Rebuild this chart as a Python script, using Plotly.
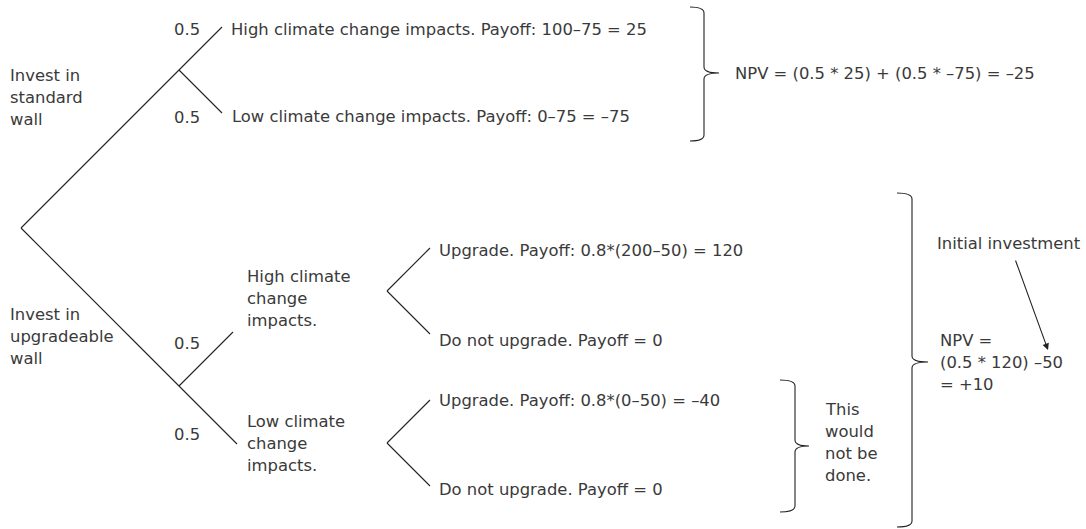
import plotly.graph_objects as go

W, H = 1086, 529
FONT = "DejaVu Sans"
FS = 16.4
TXT = "#3a3a3a"
LINE = "#222222"

# ---- tree nodes (pixel-space layout of the diagram) ----
node_names = ["root", "std", "std_hi", "std_lo", "upg", "upg_hi", "upg_lo",
              "hi_node", "hi_up", "hi_no", "lo_node", "lo_up", "lo_no"]
node_x = [21, 179, 222, 222, 179, 233, 237, 387, 430, 430, 387, 430, 430]
node_y = [228, 70, 27, 113, 386, 332, 444, 291, 248, 334, 443, 400, 486]

# edges of the tree
edges = [("root", "std"), ("std", "std_hi"), ("std", "std_lo"),
         ("root", "upg"), ("upg", "upg_hi"), ("upg", "upg_lo"),
         ("hi_node", "hi_up"), ("hi_node", "hi_no"),
         ("lo_node", "lo_up"), ("lo_node", "lo_no")]

# ---- probabilities ----
prob_labels = ["0.5", "0.5", "0.5", "0.5"]
prob_x = [202, 202, 202, 202]
prob_y = [29, 117, 343, 434]

# ---- decision / chance labels (multi-line) ----
branch_labels = [["Invest in", "standard", "wall"],
                 ["Invest in", "upgradeable", "wall"],
                 ["High climate", "change", "impacts."],
                 ["Low climate", "change", "impacts."],
                 ["This", "would", "not be", "done."],
                 ["NPV =", "(0.5 * 120) –50", "= +10"]]
branch_x = [8, 8, 245, 245, 823, 938]
branch_y = [75, 314, 276, 421, 409, 340]
LINE_GAP = 22

# ---- payoff labels ----
payoff_labels = ["High climate change impacts. Payoff: 100–75 = 25",
                 "Low climate change impacts. Payoff: 0–75 = –75",
                 "Upgrade. Payoff: 0.8*(200–50) = 120",
                 "Do not upgrade. Payoff = 0",
                 "Upgrade. Payoff: 0.8*(0–50) = –40",
                 "Do not upgrade. Payoff = 0",
                 "NPV = (0.5 * 25) + (0.5 * –75) = –25",
                 "Initial investment"]
payoff_x = [229, 230, 437, 437, 437, 437, 733, 935]
payoff_y = [29, 116, 250, 340, 400, 489, 73, 243]

# ---- braces: hook x, spine x, tip x, top y, mid y, bottom y ----
brace_hook = [690, 780, 897]
brace_spine = [704, 795, 912]
brace_tip = [719, 809, 928]
brace_top = [7, 380, 193]
brace_mid = [73, 446, 362]
brace_bot = [141, 512, 527]

# ---- arrow (tail -> head) ----
arrow_tail = (1015, 259)
arrow_head = (1048, 350)

fig = go.Figure()

pos = {n: (x, y) for n, x, y in zip(node_names, node_x, node_y)}
ex, ey = [], []
for a, b in edges:
    ex += [pos[a][0], pos[b][0], None]
    ey += [pos[a][1], pos[b][1], None]
fig.add_trace(go.Scatter(x=ex, y=ey, mode="lines",
                         line=dict(color=LINE, width=1.1),
                         hoverinfo="skip", showlegend=False))


def brace_path(xh, xs, xt, yt, ym, yb, r=6):
    return (f"M {xh},{yt} Q {xs},{yt} {xs},{yt + r} "
            f"L {xs},{ym - r} Q {xs},{ym} {xt},{ym} "
            f"Q {xs},{ym} {xs},{ym + r} "
            f"L {xs},{yb - r} Q {xs},{yb} {xh},{yb}")


shapes = []
for xh, xs, xt, yt, ym, yb in zip(brace_hook, brace_spine, brace_tip,
                                  brace_top, brace_mid, brace_bot):
    shapes.append(dict(type="path", xref="x", yref="y",
                       path=brace_path(xh, xs, xt, yt, ym, yb),
                       line=dict(color=LINE, width=1.1)))

annotations = []
font = dict(family=FONT, size=FS, color=TXT)
for t, x, y in zip(prob_labels, prob_x, prob_y):
    annotations.append(dict(text=t, x=x, y=y, xref="x", yref="y",
                            xanchor="right", yanchor="middle",
                            showarrow=False, font=font))
for lines, x, y in zip(branch_labels, branch_x, branch_y):
    for i, t in enumerate(lines):
        annotations.append(dict(text=t, x=x, y=y + i * LINE_GAP,
                                xref="x", yref="y",
                                xanchor="left", yanchor="middle",
                                showarrow=False, font=font))
for t, x, y in zip(payoff_labels, payoff_x, payoff_y):
    annotations.append(dict(text=t, x=x, y=y, xref="x", yref="y",
                            xanchor="left", yanchor="middle",
                            showarrow=False, font=font))
annotations.append(dict(text="", x=arrow_head[0], y=arrow_head[1],
                        ax=arrow_tail[0], ay=arrow_tail[1],
                        xref="x", yref="y", axref="x", ayref="y",
                        showarrow=True, arrowhead=2, arrowsize=1.2,
                        arrowwidth=1.1, arrowcolor=LINE))

fig.update_layout(
    width=W, height=H,
    margin=dict(l=0, r=0, t=0, b=0),
    paper_bgcolor="white", plot_bgcolor="white",
    xaxis=dict(range=[0, W], visible=False, fixedrange=True),
    yaxis=dict(range=[H, 0], visible=False, fixedrange=True),
    shapes=shapes, annotations=annotations,
)

fig.write_html("out.html", config={"displayModeBar": False},
               post_script="document.body.style.margin='0';"
                           "document.body.style.overflow='hidden';")
